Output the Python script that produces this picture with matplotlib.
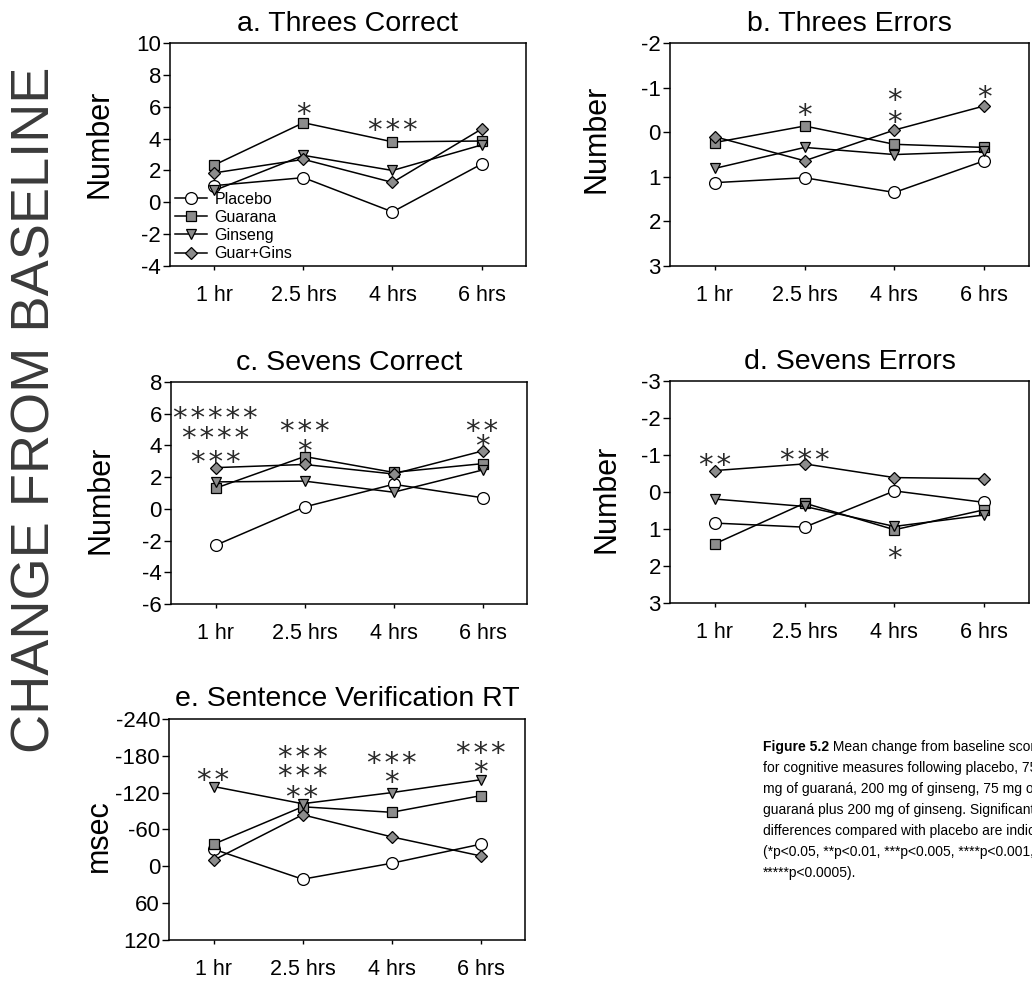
"""Mean change from baseline scores, cognitive measures (Figure 5.2), five panels."""
import matplotlib
matplotlib.use("Agg")
import matplotlib.pyplot as plt

plt.rcParams["font.family"] = ["Liberation Sans", "DejaVu Sans"]
plt.rcParams["axes.unicode_minus"] = False

TIMES = ["1 hr", "2.5 hrs", "4 hrs", "6 hrs"]
GROUPS = ["Placebo", "Guarana", "Ginseng", "Guar+Gins"]

# values per group, in GROUPS order
threes_correct = [[1.05, 1.55, -0.6, 2.4],
                  [2.35, 5.0, 3.8, 3.85],
                  [0.75, 2.95, 2.0, 3.6],
                  [1.85, 2.7, 1.25, 4.6]]
threes_errors = [[1.13, 1.02, 1.35, 0.64],
                 [0.23, -0.14, 0.27, 0.34],
                 [0.81, 0.34, 0.5, 0.43],
                 [0.1, 0.64, -0.05, -0.59]]
sevens_correct = [[-2.3, 0.12, 1.55, 0.7],
                  [1.3, 3.3, 2.3, 2.85],
                  [1.7, 1.75, 1.05, 2.45],
                  [2.6, 2.8, 2.2, 3.65]]
sevens_errors = [[0.84, 0.95, -0.03, 0.28],
                 [1.4, 0.3, 1.02, 0.48],
                 [0.19, 0.39, 0.93, 0.62],
                 [-0.58, -0.76, -0.39, -0.36]]
sentence_rt = [[-28, 21, -5, -36],
               [-36, -97, -88, -115],
               [-130, -102, -120, -141],
               [-10, -84, -48, -17]]

# significance marks: (time index, y, number of stars)
stars_a = [(1, 6.1, 1), (2, 5.07, 3)]
stars_b = [(1, -0.58, 1), (2, -0.91, 1), (2, -0.43, 1), (3, -0.99, 1)]
stars_c = [(0, 6.25, 5), (0, 5.0, 4), (0, 3.5, 3),
           (1, 5.48, 3), (1, 4.22, 1), (3, 5.48, 2), (3, 4.5, 1)]
stars_d = [(0, -0.96, 2), (1, -1.11, 3), (2, 1.56, 1)]
stars_e = [(0, -155, 2), (1, -192, 3), (1, -161, 3), (1, -127, 2),
           (2, -183, 3), (2, -152, 1), (3, -198, 3), (3, -168, 1)]

GRAY = "#8c8c8c"
STYLE = {"Placebo": dict(marker="o", mfc="white", ms=8.5),
         "Guarana": dict(marker="s", mfc=GRAY, ms=7),
         "Ginseng": dict(marker="v", mfc=GRAY, ms=7.5),
         "Guar+Gins": dict(marker="D", mfc=GRAY, ms=6.5)}

fig = plt.figure(figsize=(10.32, 9.81), dpi=100)

panels = [
    ("a. Threes Correct", threes_correct, stars_a, [0.1647, 0.7288, 0.345, 0.2273],
     (10, -4), list(range(10, -5, -2)), "Number", (-0.157, 0.55)),
    ("b. Threes Errors", threes_errors, stars_b, [0.6492, 0.7288, 0.348, 0.2273],
     (-2, 3), list(range(-2, 4)), "Number", (-0.164, 0.57)),
    ("c. Sevens Correct", sevens_correct, stars_c, [0.1657, 0.3843, 0.345, 0.2263],
     (8, -6), list(range(8, -7, -2)), "Number", (-0.157, 0.47)),
    ("d. Sevens Errors", sevens_errors, stars_d, [0.6492, 0.3853, 0.348, 0.2263],
     (-3, 3), list(range(-3, 4)), "Number", (-0.134, 0.47)),
    ("e. Sentence Verification RT", sentence_rt, stars_e, [0.1638, 0.0418, 0.345, 0.2253],
     (-240, 120), list(range(-240, 121, 60)), "msec", (-0.155, 0.47)),
]

for i, (title, vals, stars, rect, ylim, yticks, ylabel, lpos) in enumerate(panels):
    ax = fig.add_axes(rect)
    x = range(len(TIMES))
    for g, ys in zip(GROUPS, vals):
        ax.plot(x, ys, color="black", lw=1.1, mec="black", mew=0.9, label=g, **STYLE[g])
    # first value is the top of the axis (error / RT panels run downwards)
    ax.set_ylim(ylim[1], ylim[0])
    ax.set_yticks(yticks)
    ax.set_xlim(-0.5, 3.5)
    ax.set_xticks(list(x))
    ax.set_xticklabels(TIMES)
    ax.tick_params(axis="y", direction="out", length=5, width=1, pad=1.5, labelsize=16)
    ax.tick_params(axis="x", direction="out", length=3, width=1, pad=11, labelsize=15.5)
    for sp in ax.spines.values():
        sp.set_linewidth(1.1)
    ax.set_title(title, fontsize=20.5, pad=9)
    ax.set_ylabel(ylabel, fontsize=22)
    ax.yaxis.set_label_coords(*lpos)
    for xi, y, n in stars:
        ax.annotate("\u200a".join("*" * n), (xi, y), xytext=(0, -7), textcoords="offset points",
                    ha="center", va="center", fontsize=21, color="#2a2a2a",
                    family="DejaVu Sans")
    if i == 0:
        ax.legend(loc="lower left", frameon=False, fontsize=11.5, handlelength=2.0,
                  handletextpad=0.5, labelspacing=0.2, borderaxespad=0.0, borderpad=0.3)

fig.text(0.034, 0.582, "CHANGE FROM BASELINE", rotation=90, ha="center", va="center",
         fontsize=39, color="#3a3a3a")

caption = ["for cognitive measures following placebo, 75",
           "mg of guaraná, 200 mg of ginseng, 75 mg of",
           "guaraná plus 200 mg of ginseng. Significant",
           "differences compared with placebo are indicated",
           "(*p<0.05, **p<0.01, ***p<0.005, ****p<0.001,",
           "*****p<0.0005)."]
x0, y0, dy = 763 / 1032, 1 - 747 / 981, 21 / 981
head = fig.text(x0, y0, "Figure 5.2", fontsize=10, fontweight="bold", va="center")
fig.add_artist(plt.Annotation(" Mean change from baseline scores", xy=(1, 0.5),
                              xycoords=head, va="center", fontsize=10))
for k, line in enumerate(caption):
    fig.text(x0, y0 - (k + 1) * dy, line, fontsize=10, va="center")

fig.savefig("out.png", dpi=100)
